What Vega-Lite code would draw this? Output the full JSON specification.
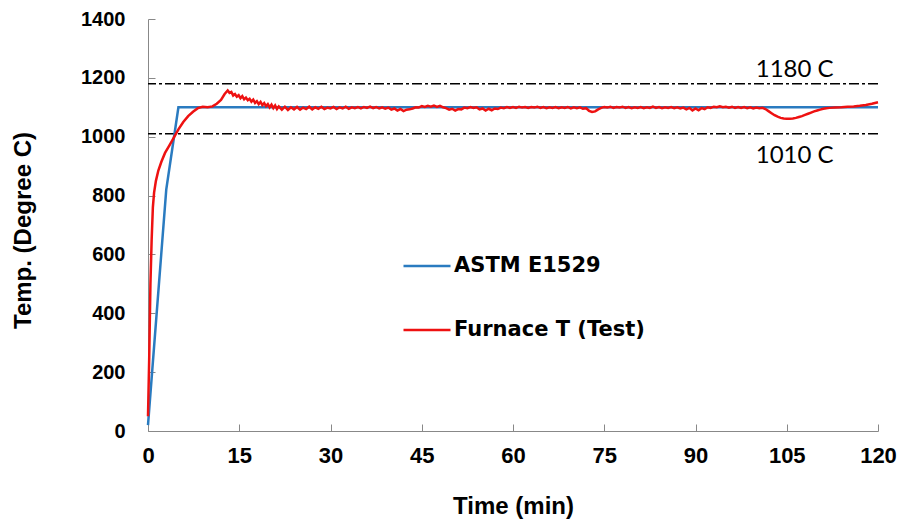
{
  "$schema": "https://vega.github.io/schema/vega-lite/v6.json",
  "width": 730,
  "height": 412,
  "autosize": {"type": "none"},
  "padding": {"left": 148, "top": 19, "right": 24, "bottom": 93},
  "background": "white",
  "config": {"view": {"stroke": null}},
  "datasets": {
    "curves": [
      {"t": 0, "v": 20, "s": "ASTM E1529"},
      {"t": 3, "v": 820, "s": "ASTM E1529"},
      {"t": 5, "v": 1100, "s": "ASTM E1529"},
      {"t": 120, "v": 1100, "s": "ASTM E1529"},
      {"t": 0, "v": 50, "s": "Furnace T (Test)"},
      {"t": 0.2, "v": 250, "s": "Furnace T (Test)"},
      {"t": 0.4, "v": 500, "s": "Furnace T (Test)"},
      {"t": 0.6, "v": 650, "s": "Furnace T (Test)"},
      {"t": 0.8, "v": 760, "s": "Furnace T (Test)"},
      {"t": 1.0, "v": 810, "s": "Furnace T (Test)"},
      {"t": 1.3, "v": 850, "s": "Furnace T (Test)"},
      {"t": 1.7, "v": 885, "s": "Furnace T (Test)"},
      {"t": 2.2, "v": 915, "s": "Furnace T (Test)"},
      {"t": 2.8, "v": 945, "s": "Furnace T (Test)"},
      {"t": 3.5, "v": 970, "s": "Furnace T (Test)"},
      {"t": 4.2, "v": 995, "s": "Furnace T (Test)"},
      {"t": 5.0, "v": 1025, "s": "Furnace T (Test)"},
      {"t": 5.8, "v": 1050, "s": "Furnace T (Test)"},
      {"t": 6.6, "v": 1070, "s": "Furnace T (Test)"},
      {"t": 7.4, "v": 1085, "s": "Furnace T (Test)"},
      {"t": 8.2, "v": 1097, "s": "Furnace T (Test)"},
      {"t": 9.0, "v": 1102, "s": "Furnace T (Test)"},
      {"t": 9.8, "v": 1100, "s": "Furnace T (Test)"},
      {"t": 10.6, "v": 1103, "s": "Furnace T (Test)"},
      {"t": 11.3, "v": 1112, "s": "Furnace T (Test)"},
      {"t": 12.0, "v": 1125, "s": "Furnace T (Test)"},
      {"t": 12.6, "v": 1145, "s": "Furnace T (Test)"},
      {"t": 13.1, "v": 1157, "s": "Furnace T (Test)"},
      {"t": 13.4, "v": 1149, "s": "Furnace T (Test)"},
      {"t": 13.7, "v": 1152, "s": "Furnace T (Test)"},
      {"t": 14.0, "v": 1140, "s": "Furnace T (Test)"},
      {"t": 14.3, "v": 1145, "s": "Furnace T (Test)"},
      {"t": 14.6, "v": 1136, "s": "Furnace T (Test)"},
      {"t": 14.9, "v": 1141, "s": "Furnace T (Test)"},
      {"t": 15.2, "v": 1131, "s": "Furnace T (Test)"},
      {"t": 15.5, "v": 1138, "s": "Furnace T (Test)"},
      {"t": 15.8, "v": 1127, "s": "Furnace T (Test)"},
      {"t": 16.1, "v": 1133, "s": "Furnace T (Test)"},
      {"t": 16.4, "v": 1124, "s": "Furnace T (Test)"},
      {"t": 16.7, "v": 1129, "s": "Furnace T (Test)"},
      {"t": 17.0, "v": 1119, "s": "Furnace T (Test)"},
      {"t": 17.3, "v": 1126, "s": "Furnace T (Test)"},
      {"t": 17.6, "v": 1115, "s": "Furnace T (Test)"},
      {"t": 17.9, "v": 1121, "s": "Furnace T (Test)"},
      {"t": 18.2, "v": 1111, "s": "Furnace T (Test)"},
      {"t": 18.5, "v": 1118, "s": "Furnace T (Test)"},
      {"t": 18.8, "v": 1107, "s": "Furnace T (Test)"},
      {"t": 19.1, "v": 1114, "s": "Furnace T (Test)"},
      {"t": 19.4, "v": 1104, "s": "Furnace T (Test)"},
      {"t": 19.7, "v": 1111, "s": "Furnace T (Test)"},
      {"t": 20.0, "v": 1100, "s": "Furnace T (Test)"},
      {"t": 20.3, "v": 1109, "s": "Furnace T (Test)"},
      {"t": 20.6, "v": 1097, "s": "Furnace T (Test)"},
      {"t": 20.9, "v": 1106, "s": "Furnace T (Test)"},
      {"t": 21.2, "v": 1094, "s": "Furnace T (Test)"},
      {"t": 21.5, "v": 1103, "s": "Furnace T (Test)"},
      {"t": 22.0, "v": 1092, "s": "Furnace T (Test)"},
      {"t": 22.5, "v": 1102, "s": "Furnace T (Test)"},
      {"t": 23.0, "v": 1091, "s": "Furnace T (Test)"},
      {"t": 23.5, "v": 1100, "s": "Furnace T (Test)"},
      {"t": 24.0, "v": 1093, "s": "Furnace T (Test)"},
      {"t": 24.5, "v": 1101, "s": "Furnace T (Test)"},
      {"t": 25.0, "v": 1092, "s": "Furnace T (Test)"},
      {"t": 25.5, "v": 1099, "s": "Furnace T (Test)"},
      {"t": 26.0, "v": 1094, "s": "Furnace T (Test)"},
      {"t": 26.5, "v": 1102, "s": "Furnace T (Test)"},
      {"t": 27.0, "v": 1093, "s": "Furnace T (Test)"},
      {"t": 27.5, "v": 1100, "s": "Furnace T (Test)"},
      {"t": 28.0, "v": 1095, "s": "Furnace T (Test)"},
      {"t": 28.5, "v": 1102, "s": "Furnace T (Test)"},
      {"t": 29.0, "v": 1094, "s": "Furnace T (Test)"},
      {"t": 29.5, "v": 1099, "s": "Furnace T (Test)"},
      {"t": 30.0, "v": 1096, "s": "Furnace T (Test)"},
      {"t": 30.5, "v": 1101, "s": "Furnace T (Test)"},
      {"t": 31.0, "v": 1094, "s": "Furnace T (Test)"},
      {"t": 31.5, "v": 1100, "s": "Furnace T (Test)"},
      {"t": 32.0, "v": 1096, "s": "Furnace T (Test)"},
      {"t": 32.5, "v": 1102, "s": "Furnace T (Test)"},
      {"t": 33.0, "v": 1095, "s": "Furnace T (Test)"},
      {"t": 33.5, "v": 1100, "s": "Furnace T (Test)"},
      {"t": 34.0, "v": 1097, "s": "Furnace T (Test)"},
      {"t": 34.5, "v": 1101, "s": "Furnace T (Test)"},
      {"t": 35.0, "v": 1096, "s": "Furnace T (Test)"},
      {"t": 35.5, "v": 1101, "s": "Furnace T (Test)"},
      {"t": 36.0, "v": 1098, "s": "Furnace T (Test)"},
      {"t": 36.5, "v": 1102, "s": "Furnace T (Test)"},
      {"t": 37.0, "v": 1097, "s": "Furnace T (Test)"},
      {"t": 37.5, "v": 1101, "s": "Furnace T (Test)"},
      {"t": 38.0, "v": 1096, "s": "Furnace T (Test)"},
      {"t": 38.5, "v": 1100, "s": "Furnace T (Test)"},
      {"t": 39.0, "v": 1095, "s": "Furnace T (Test)"},
      {"t": 39.5, "v": 1099, "s": "Furnace T (Test)"},
      {"t": 40.0, "v": 1092, "s": "Furnace T (Test)"},
      {"t": 40.5, "v": 1096, "s": "Furnace T (Test)"},
      {"t": 41.0, "v": 1089, "s": "Furnace T (Test)"},
      {"t": 41.5, "v": 1094, "s": "Furnace T (Test)"},
      {"t": 42.0, "v": 1087, "s": "Furnace T (Test)"},
      {"t": 42.5, "v": 1092, "s": "Furnace T (Test)"},
      {"t": 43.0, "v": 1093, "s": "Furnace T (Test)"},
      {"t": 43.5, "v": 1096, "s": "Furnace T (Test)"},
      {"t": 44.0, "v": 1100, "s": "Furnace T (Test)"},
      {"t": 44.5, "v": 1099, "s": "Furnace T (Test)"},
      {"t": 45.0, "v": 1104, "s": "Furnace T (Test)"},
      {"t": 45.5, "v": 1101, "s": "Furnace T (Test)"},
      {"t": 46.0, "v": 1105, "s": "Furnace T (Test)"},
      {"t": 46.5, "v": 1102, "s": "Furnace T (Test)"},
      {"t": 47.0, "v": 1106, "s": "Furnace T (Test)"},
      {"t": 47.5, "v": 1101, "s": "Furnace T (Test)"},
      {"t": 48.0, "v": 1105, "s": "Furnace T (Test)"},
      {"t": 48.5, "v": 1100, "s": "Furnace T (Test)"},
      {"t": 49.0, "v": 1097, "s": "Furnace T (Test)"},
      {"t": 49.5, "v": 1092, "s": "Furnace T (Test)"},
      {"t": 50.0, "v": 1095, "s": "Furnace T (Test)"},
      {"t": 50.5, "v": 1089, "s": "Furnace T (Test)"},
      {"t": 51.0, "v": 1094, "s": "Furnace T (Test)"},
      {"t": 51.5, "v": 1093, "s": "Furnace T (Test)"},
      {"t": 52.0, "v": 1099, "s": "Furnace T (Test)"},
      {"t": 52.5, "v": 1097, "s": "Furnace T (Test)"},
      {"t": 53.0, "v": 1101, "s": "Furnace T (Test)"},
      {"t": 53.5, "v": 1098, "s": "Furnace T (Test)"},
      {"t": 54.0, "v": 1100, "s": "Furnace T (Test)"},
      {"t": 54.5, "v": 1093, "s": "Furnace T (Test)"},
      {"t": 55.0, "v": 1096, "s": "Furnace T (Test)"},
      {"t": 55.5, "v": 1089, "s": "Furnace T (Test)"},
      {"t": 56.0, "v": 1095, "s": "Furnace T (Test)"},
      {"t": 56.5, "v": 1090, "s": "Furnace T (Test)"},
      {"t": 57.0, "v": 1096, "s": "Furnace T (Test)"},
      {"t": 57.5, "v": 1094, "s": "Furnace T (Test)"},
      {"t": 58.0, "v": 1099, "s": "Furnace T (Test)"},
      {"t": 58.5, "v": 1097, "s": "Furnace T (Test)"},
      {"t": 59.0, "v": 1101, "s": "Furnace T (Test)"},
      {"t": 59.5, "v": 1098, "s": "Furnace T (Test)"},
      {"t": 60.0, "v": 1101, "s": "Furnace T (Test)"},
      {"t": 60.5, "v": 1098, "s": "Furnace T (Test)"},
      {"t": 61.0, "v": 1102, "s": "Furnace T (Test)"},
      {"t": 61.5, "v": 1099, "s": "Furnace T (Test)"},
      {"t": 62.0, "v": 1101, "s": "Furnace T (Test)"},
      {"t": 62.5, "v": 1098, "s": "Furnace T (Test)"},
      {"t": 63.0, "v": 1101, "s": "Furnace T (Test)"},
      {"t": 63.5, "v": 1099, "s": "Furnace T (Test)"},
      {"t": 64.0, "v": 1102, "s": "Furnace T (Test)"},
      {"t": 64.5, "v": 1098, "s": "Furnace T (Test)"},
      {"t": 65.0, "v": 1101, "s": "Furnace T (Test)"},
      {"t": 65.5, "v": 1097, "s": "Furnace T (Test)"},
      {"t": 66.0, "v": 1100, "s": "Furnace T (Test)"},
      {"t": 66.5, "v": 1098, "s": "Furnace T (Test)"},
      {"t": 67.0, "v": 1101, "s": "Furnace T (Test)"},
      {"t": 67.5, "v": 1097, "s": "Furnace T (Test)"},
      {"t": 68.0, "v": 1100, "s": "Furnace T (Test)"},
      {"t": 68.5, "v": 1098, "s": "Furnace T (Test)"},
      {"t": 69.0, "v": 1101, "s": "Furnace T (Test)"},
      {"t": 69.5, "v": 1096, "s": "Furnace T (Test)"},
      {"t": 70.0, "v": 1100, "s": "Furnace T (Test)"},
      {"t": 70.5, "v": 1097, "s": "Furnace T (Test)"},
      {"t": 71.0, "v": 1100, "s": "Furnace T (Test)"},
      {"t": 71.5, "v": 1095, "s": "Furnace T (Test)"},
      {"t": 72.0, "v": 1097, "s": "Furnace T (Test)"},
      {"t": 72.5, "v": 1088, "s": "Furnace T (Test)"},
      {"t": 73.0, "v": 1084, "s": "Furnace T (Test)"},
      {"t": 73.5, "v": 1086, "s": "Furnace T (Test)"},
      {"t": 74.0, "v": 1093, "s": "Furnace T (Test)"},
      {"t": 74.5, "v": 1098, "s": "Furnace T (Test)"},
      {"t": 75.0, "v": 1101, "s": "Furnace T (Test)"},
      {"t": 75.5, "v": 1099, "s": "Furnace T (Test)"},
      {"t": 76.0, "v": 1102, "s": "Furnace T (Test)"},
      {"t": 76.5, "v": 1098, "s": "Furnace T (Test)"},
      {"t": 77.0, "v": 1101, "s": "Furnace T (Test)"},
      {"t": 77.5, "v": 1099, "s": "Furnace T (Test)"},
      {"t": 78.0, "v": 1102, "s": "Furnace T (Test)"},
      {"t": 78.5, "v": 1098, "s": "Furnace T (Test)"},
      {"t": 79.0, "v": 1101, "s": "Furnace T (Test)"},
      {"t": 79.5, "v": 1097, "s": "Furnace T (Test)"},
      {"t": 80.0, "v": 1100, "s": "Furnace T (Test)"},
      {"t": 80.5, "v": 1098, "s": "Furnace T (Test)"},
      {"t": 81.0, "v": 1101, "s": "Furnace T (Test)"},
      {"t": 81.5, "v": 1097, "s": "Furnace T (Test)"},
      {"t": 82.0, "v": 1100, "s": "Furnace T (Test)"},
      {"t": 82.5, "v": 1098, "s": "Furnace T (Test)"},
      {"t": 83.0, "v": 1102, "s": "Furnace T (Test)"},
      {"t": 83.5, "v": 1098, "s": "Furnace T (Test)"},
      {"t": 84.0, "v": 1101, "s": "Furnace T (Test)"},
      {"t": 84.5, "v": 1097, "s": "Furnace T (Test)"},
      {"t": 85.0, "v": 1100, "s": "Furnace T (Test)"},
      {"t": 85.5, "v": 1098, "s": "Furnace T (Test)"},
      {"t": 86.0, "v": 1101, "s": "Furnace T (Test)"},
      {"t": 86.5, "v": 1097, "s": "Furnace T (Test)"},
      {"t": 87.0, "v": 1100, "s": "Furnace T (Test)"},
      {"t": 87.5, "v": 1096, "s": "Furnace T (Test)"},
      {"t": 88.0, "v": 1099, "s": "Furnace T (Test)"},
      {"t": 88.5, "v": 1093, "s": "Furnace T (Test)"},
      {"t": 89.0, "v": 1098, "s": "Furnace T (Test)"},
      {"t": 89.5, "v": 1089, "s": "Furnace T (Test)"},
      {"t": 90.0, "v": 1096, "s": "Furnace T (Test)"},
      {"t": 90.5, "v": 1090, "s": "Furnace T (Test)"},
      {"t": 91.0, "v": 1097, "s": "Furnace T (Test)"},
      {"t": 91.5, "v": 1094, "s": "Furnace T (Test)"},
      {"t": 92.0, "v": 1100, "s": "Furnace T (Test)"},
      {"t": 92.5, "v": 1098, "s": "Furnace T (Test)"},
      {"t": 93.0, "v": 1102, "s": "Furnace T (Test)"},
      {"t": 93.5, "v": 1100, "s": "Furnace T (Test)"},
      {"t": 94.0, "v": 1103, "s": "Furnace T (Test)"},
      {"t": 94.5, "v": 1100, "s": "Furnace T (Test)"},
      {"t": 95.0, "v": 1102, "s": "Furnace T (Test)"},
      {"t": 95.5, "v": 1099, "s": "Furnace T (Test)"},
      {"t": 96.0, "v": 1102, "s": "Furnace T (Test)"},
      {"t": 96.5, "v": 1098, "s": "Furnace T (Test)"},
      {"t": 97.0, "v": 1101, "s": "Furnace T (Test)"},
      {"t": 97.5, "v": 1098, "s": "Furnace T (Test)"},
      {"t": 98.0, "v": 1101, "s": "Furnace T (Test)"},
      {"t": 98.5, "v": 1097, "s": "Furnace T (Test)"},
      {"t": 99.0, "v": 1100, "s": "Furnace T (Test)"},
      {"t": 99.5, "v": 1096, "s": "Furnace T (Test)"},
      {"t": 100.0, "v": 1099, "s": "Furnace T (Test)"},
      {"t": 100.5, "v": 1097, "s": "Furnace T (Test)"},
      {"t": 101.0, "v": 1098, "s": "Furnace T (Test)"},
      {"t": 101.5, "v": 1094, "s": "Furnace T (Test)"},
      {"t": 102.0, "v": 1087, "s": "Furnace T (Test)"},
      {"t": 102.5, "v": 1080, "s": "Furnace T (Test)"},
      {"t": 103.0, "v": 1073, "s": "Furnace T (Test)"},
      {"t": 103.5, "v": 1068, "s": "Furnace T (Test)"},
      {"t": 104.0, "v": 1064, "s": "Furnace T (Test)"},
      {"t": 104.5, "v": 1062, "s": "Furnace T (Test)"},
      {"t": 105.0, "v": 1061, "s": "Furnace T (Test)"},
      {"t": 105.5, "v": 1061, "s": "Furnace T (Test)"},
      {"t": 106.0, "v": 1062, "s": "Furnace T (Test)"},
      {"t": 106.5, "v": 1064, "s": "Furnace T (Test)"},
      {"t": 107.0, "v": 1067, "s": "Furnace T (Test)"},
      {"t": 107.5, "v": 1070, "s": "Furnace T (Test)"},
      {"t": 108.0, "v": 1074, "s": "Furnace T (Test)"},
      {"t": 108.5, "v": 1078, "s": "Furnace T (Test)"},
      {"t": 109.0, "v": 1082, "s": "Furnace T (Test)"},
      {"t": 109.5, "v": 1086, "s": "Furnace T (Test)"},
      {"t": 110.0, "v": 1089, "s": "Furnace T (Test)"},
      {"t": 110.5, "v": 1092, "s": "Furnace T (Test)"},
      {"t": 111.0, "v": 1095, "s": "Furnace T (Test)"},
      {"t": 111.5, "v": 1097, "s": "Furnace T (Test)"},
      {"t": 112.0, "v": 1098, "s": "Furnace T (Test)"},
      {"t": 113.0, "v": 1099, "s": "Furnace T (Test)"},
      {"t": 114.0, "v": 1100, "s": "Furnace T (Test)"},
      {"t": 115.0, "v": 1102, "s": "Furnace T (Test)"},
      {"t": 116.0, "v": 1103, "s": "Furnace T (Test)"},
      {"t": 117.0, "v": 1105, "s": "Furnace T (Test)"},
      {"t": 118.0, "v": 1108, "s": "Furnace T (Test)"},
      {"t": 119.0, "v": 1112, "s": "Furnace T (Test)"},
      {"t": 120.0, "v": 1117, "s": "Furnace T (Test)"}
    ]
  },
  "layer": [
    {
      "data": {"values": [{"level": 1180}, {"level": 1010}]},
      "mark": {"type": "rule", "color": "black", "strokeWidth": 1.5, "strokeDash": [10, 3, 3, 3]},
      "encoding": {
        "y": {"field": "level", "type": "quantitative", "scale": {"domain": [0, 1400], "nice": false}}
      }
    },
    {
      "data": {"name": "curves"},
      "mark": {"type": "line", "strokeWidth": 2.5, "interpolate": "linear"},
      "encoding": {
        "x": {
          "field": "t", "type": "quantitative",
          "scale": {"domain": [0, 120], "nice": false},
          "axis": {
            "title": "Time (min)",
            "values": [0, 15, 30, 45, 60, 75, 90, 105, 120],
            "format": "d",
            "grid": false,
            "domainColor": "#888888",
            "tickColor": "#888888",
            "tickSize": -7,
            "labelFlush": false,
            "labelFont": "Liberation Sans",
            "labelFontWeight": "bold",
            "labelFontSize": 22,
            "labelColor": "black",
            "labelBaseline": "alphabetic",
            "labelPadding": 38,
            "titleFont": "Liberation Sans",
            "titleFontWeight": "bold",
            "titleFontSize": 24,
            "titleColor": "black",
            "titleBaseline": "alphabetic",
            "titleY": 82
          }
        },
        "y": {
          "field": "v", "type": "quantitative",
          "scale": {"domain": [0, 1400], "nice": false},
          "axis": {
            "title": "Temp. (Degree C)",
            "values": [0, 200, 400, 600, 800, 1000, 1200, 1400],
            "format": "d",
            "grid": false,
            "domainColor": "#888888",
            "tickColor": "#888888",
            "tickSize": -7,
            "labelFlush": false,
            "labelFont": "Liberation Sans",
            "labelFontWeight": "bold",
            "labelFontSize": 20,
            "labelColor": "black",
            "labelPadding": 30,
            "titleFont": "Liberation Sans",
            "titleFontWeight": "bold",
            "titleFontSize": 24,
            "titleColor": "black",
            "titleX": -125,
            "titleY": 211,
            "titleBaseline": "middle",
            "titleAlign": "center"
          }
        },
        "color": {
          "field": "s", "type": "nominal",
          "scale": {"domain": ["ASTM E1529", "Furnace T (Test)"], "range": ["#2A7BC0", "#EE1111"]},
          "legend": {
            "title": null,
            "orient": "none",
            "legendX": 254,
            "legendY": 222,
            "symbolType": "stroke",
            "symbolSize": 2209,
            "symbolStrokeWidth": 2.5,
            "labelFont": "DejaVu Sans",
            "labelFontWeight": "bold",
            "labelFontSize": 21,
            "labelColor": "black",
            "labelOffset": 2,
            "labelLimit": 400,
            "rowPadding": 29
          }
        }
      }
    },
    {
      "data": {"values": [{"level": 1180, "label": "1180 C"}]},
      "mark": {"type": "text", "font": "Lato", "fontSize": 24, "baseline": "alphabetic", "align": "center", "dy": -7, "color": "black"},
      "encoding": {
        "x": {"datum": 106.3, "type": "quantitative"},
        "y": {"field": "level", "type": "quantitative"},
        "text": {"field": "label"}
      }
    },
    {
      "data": {"values": [{"level": 1010, "label": "1010 C"}]},
      "mark": {"type": "text", "font": "Lato", "fontSize": 24, "baseline": "alphabetic", "align": "center", "dy": 29, "color": "black"},
      "encoding": {
        "x": {"datum": 106.3, "type": "quantitative"},
        "y": {"field": "level", "type": "quantitative"},
        "text": {"field": "label"}
      }
    }
  ]
}
